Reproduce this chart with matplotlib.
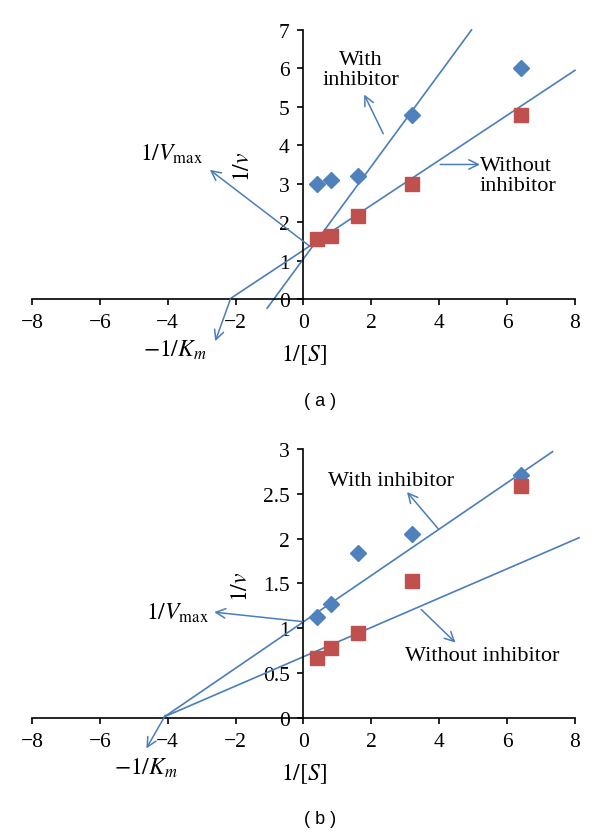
import numpy as np
import matplotlib
matplotlib.use('Agg')
import matplotlib.pyplot as plt

plt.rcParams['font.family'] = ['Liberation Serif', 'DejaVu Serif']
plt.rcParams['mathtext.fontset'] = 'stix'

# substrate (1/[S]) values, same for both panels
inv_s = [0.4, 0.8, 1.6, 3.2, 6.4]

# panel (a)
a_with = [3.0, 3.1, 3.2, 4.8, 6.0]
a_without = [1.55, 1.65, 2.15, 3.0, 4.8]
a_with_line_x = [-1.07, 4.95]
a_with_line_y = [-0.24, 7.0]
a_without_line_x = [-2.12, 8.0]
a_without_line_y = [0.03, 5.95]

# panel (b)
b_with = [1.13, 1.27, 1.84, 2.05, 2.71]
b_without = [0.67, 0.78, 0.95, 1.53, 2.59]
b_with_line_x = [-4.09, 7.34]
b_with_line_y = [0.015, 2.97]
b_without_line_x = [-4.09, 8.12]
b_without_line_y = [0.015, 2.01]

xticks = np.arange(-8, 9, 2)
a_yticks = np.arange(0, 8, 1)
b_yticks = [0, 0.5, 1, 1.5, 2, 2.5, 3]
b_ylabels = ['0', '0.5', '1', '1.5', '2', '2.5', '3']

blue = '#4F81BD'
red = '#C0504D'
line_c = '#4A7EBB'
tick_fs = 15.5
txt_fs = 16
math_fs = 17


def setup_axes(ax, ymax, yticks, ylabels):
    ax.set_xlim(-8, 8)
    ax.set_ylim(0, ymax)
    ax.spines['left'].set_position(('data', 0))
    ax.spines['bottom'].set_position(('data', 0))
    ax.spines['top'].set_visible(False)
    ax.spines['right'].set_visible(False)
    for s in ['left', 'bottom']:
        ax.spines[s].set_linewidth(1.2)
    ax.set_xticks(xticks)
    ax.set_xticklabels(['\u2212%d' % -v if v < 0 else '%d' % v for v in xticks])
    ax.set_yticks(yticks)
    ax.set_yticklabels(ylabels)
    ax.tick_params(axis='both', direction='out', length=4, width=1.2,
                   labelsize=tick_fs)
    ax.tick_params(axis='x', pad=6)
    ax.tick_params(axis='y', pad=6)
    ax.patch.set_alpha(0)


def arrow(ax, tail, head):
    ax.annotate('', xy=head, xytext=tail, annotation_clip=False,
                arrowprops=dict(arrowstyle='->', color=line_c, lw=1.1,
                                shrinkA=0, shrinkB=0, mutation_scale=17))


fig = plt.figure(figsize=(6, 8.37), dpi=100)
ax1 = fig.add_axes([0.0533, 0.6416, 0.905, 0.3214])
ax2 = fig.add_axes([0.0533, 0.1410, 0.905, 0.3214])

# (a)
setup_axes(ax1, 7, a_yticks, [str(v) for v in a_yticks])
ax1.plot(a_with_line_x, a_with_line_y, color=line_c, lw=1.2, clip_on=False)
ax1.plot(a_without_line_x, a_without_line_y, color=line_c, lw=1.2, clip_on=False)
ax1.plot(inv_s, a_with, 'D', color=blue, ms=8, mec=blue, clip_on=False)
ax1.plot(inv_s, a_without, 's', color=red, ms=10, mec=red, clip_on=False)
arrow(ax1, (0.16, 1.39), (-2.76, 3.36))
arrow(ax1, (-2.15, 0.0), (-2.6, -1.1))
arrow(ax1, (2.35, 4.3), (1.79, 5.32))
arrow(ax1, (4.03, 3.5), (5.2, 3.5))
ax1.text(1.7, 5.97, 'With\ninhibitor', ha='center', va='center',
         fontsize=txt_fs, linespacing=1.05)
ax1.text(5.2, 3.22, 'Without\ninhibitor', ha='left', va='center',
         fontsize=txt_fs, linespacing=1.05)
ax1.text(-3.9, 3.8, r'$1/V_{\rm max}$', ha='center', va='center', fontsize=math_fs)
ax1.text(-3.8, -1.3, r'$-1/K_m$', ha='center', va='center', fontsize=math_fs)
ax1.text(0, -1.43, r'$1/[S]$', ha='center', va='center', fontsize=math_fs)
ax1.text(-1.78, 3.46, r'$1/v$', ha='center', va='center', fontsize=math_fs,
         rotation=90)
ax1.text(0.5, -2.64, '( a )', ha='center', va='center', fontsize=13,
         family='Liberation Sans')

# (b)
setup_axes(ax2, 3, b_yticks, b_ylabels)
ax2.plot(b_with_line_x, b_with_line_y, color=line_c, lw=1.2, clip_on=False)
ax2.plot(b_without_line_x, b_without_line_y, color=line_c, lw=1.2, clip_on=False)
ax2.plot(inv_s, b_with, 'D', color=blue, ms=8, mec=blue, clip_on=False)
ax2.plot(inv_s, b_without, 's', color=red, ms=10, mec=red, clip_on=False)
arrow(ax2, (-0.03, 1.075), (-2.63, 1.18))
arrow(ax2, (-4.07, 0.03), (-4.63, -0.34))
arrow(ax2, (3.97, 2.11), (3.05, 2.52))
arrow(ax2, (3.47, 1.21), (4.48, 0.84))
ax2.text(2.58, 2.65, 'With inhibitor', ha='center', va='center', fontsize=txt_fs)
ax2.text(5.28, 0.70, 'Without inhibitor', ha='center', va='center', fontsize=txt_fs)
ax2.text(-3.7, 1.18, r'$1/V_{\rm max}$', ha='center', va='center', fontsize=math_fs)
ax2.text(-4.65, -0.55, r'$-1/K_m$', ha='center', va='center', fontsize=math_fs)
ax2.text(0, -0.62, r'$1/[S]$', ha='center', va='center', fontsize=math_fs)
ax2.text(-1.84, 1.47, r'$1/v$', ha='center', va='center', fontsize=math_fs,
         rotation=90)
ax2.text(0.5, -1.12, '( b )', ha='center', va='center', fontsize=13,
         family='Liberation Sans')

fig.savefig('out.png', dpi=100)
